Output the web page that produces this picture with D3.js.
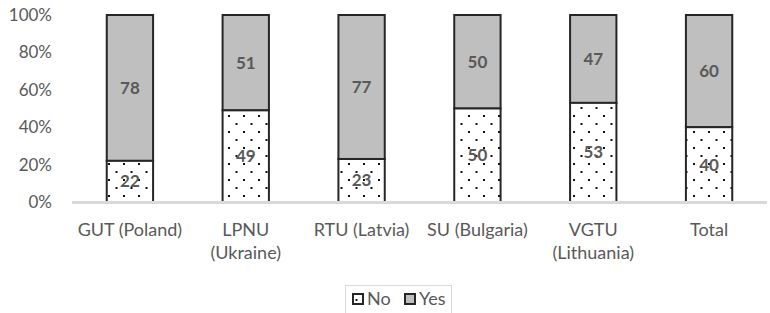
<!DOCTYPE html>
<html><head><meta charset="utf-8">
<script src="https://cdn.jsdelivr.net/npm/d3@7"></script>
<style>body{margin:0;background:#fff}svg{display:block}</style>
</head><body><svg id="c" width="770" height="313"></svg>
<script>
const categories = ["GUT (Poland)", "LPNU (Ukraine)", "RTU (Latvia)", "SU (Bulgaria)", "VGTU (Lithuania)", "Total"];
const tickLabels = [["GUT (Poland)"], ["LPNU", "(Ukraine)"], ["RTU (Latvia)"], ["SU (Bulgaria)"], ["VGTU", "(Lithuania)"], ["Total"]];
const noValues = [22, 49, 23, 50, 53, 40];
const yesValues = [78, 51, 77, 50, 47, 60];
const yTicks = [0, 20, 40, 60, 80, 100];
const seriesNames = ["No", "Yes"];

const FONT = "Lato, 'Open Sans', sans-serif";
const svg = d3.select("#c");
const defs = svg.append("defs");
const pat = defs.append("pattern").attr("id", "dots").attr("patternUnits", "userSpaceOnUse")
  .attr("width", 15).attr("height", 16);
pat.append("rect").attr("width", 15).attr("height", 16).attr("fill", "#fff");
pat.append("rect").attr("x", 3).attr("y", 3).attr("width", 2).attr("height", 2).attr("fill", "#111");
pat.append("rect").attr("x", 10.5).attr("y", 11).attr("width", 2).attr("height", 2).attr("fill", "#111");

const x = d3.scaleBand().domain(categories).range([72, 767]).paddingInner(0.6).paddingOuter(0.3);
const y = d3.scaleLinear().domain([0, 100]).range([202, 15]);

// y labels
svg.append("g").selectAll("text").data(yTicks).join("text")
  .attr("x", 52).attr("y", d => y(d)).attr("dy", "0.35em").attr("text-anchor", "end")
  .attr("font-family", FONT).attr("font-size", 17).attr("fill", "#595959")
  .text(d => d + "%");

const rows = categories.map((c, i) => ({c, no: noValues[i], yes: yesValues[i]}));
const g = svg.append("g");
g.selectAll("rect.yes").data(rows).join("rect").attr("class", "yes")
  .attr("x", d => x(d.c)).attr("width", x.bandwidth())
  .attr("y", d => y(d.no + d.yes)).attr("height", d => y(d.no) - y(d.no + d.yes))
  .attr("fill", "#BFBFBF").attr("stroke", "#262626").attr("stroke-width", 2);
g.selectAll("rect.no").data(rows).join("rect").attr("class", "no")
  .attr("x", d => x(d.c)).attr("width", x.bandwidth())
  .attr("y", d => y(d.no)).attr("height", d => y(0) - y(d.no))
  .attr("fill", "url(#dots)").attr("stroke", "#262626").attr("stroke-width", 2);

// x axis line
svg.append("line").attr("x1", 72).attr("x2", 767).attr("y1", y(0) + 0.5).attr("y2", y(0) + 0.5)
  .attr("stroke", "#D9D9D9").attr("stroke-width", 3);

// value labels
const lab = svg.append("g").attr("font-family", FONT).attr("font-size", 17).attr("font-weight", "bold")
  .attr("fill", "#595959").attr("text-anchor", "middle");
lab.selectAll("text.n").data(rows).join("text").attr("class", "n")
  .attr("x", d => x(d.c) + x.bandwidth() / 2).attr("y", d => (y(0) + y(d.no)) / 2).attr("dy", "0.35em")
  .text(d => d.no);
lab.selectAll("text.y").data(rows).join("text").attr("class", "y")
  .attr("x", d => x(d.c) + x.bandwidth() / 2).attr("y", d => (y(d.no) + y(d.no + d.yes)) / 2).attr("dy", "0.35em")
  .text(d => d.yes);

// category labels
const cl = svg.append("g").attr("font-family", FONT).attr("font-size", 18).attr("fill", "#595959").attr("text-anchor", "middle");
categories.forEach((c, i) => {
  const cx = x(c) + x.bandwidth() / 2;
  const t = cl.append("text").attr("x", cx).attr("y", 236);
  tickLabels[i].forEach((line, j) => t.append("tspan").attr("x", cx).attr("dy", j ? 23 : 0).text(line));
});

// legend
const lg = svg.append("g");
lg.append("rect").attr("x", 345.5).attr("y", 285.5).attr("width", 106).attr("height", 30)
  .attr("fill", "#fff").attr("stroke", "#D9D9D9").attr("stroke-width", 1);
const items = [{name: seriesNames[0], fill: "url(#dots)", x: 353}, {name: seriesNames[1], fill: "#BFBFBF", x: 405}];
items.forEach(it => {
  lg.append("rect").attr("x", it.x).attr("y", 294).attr("width", 10).attr("height", 10)
    .attr("fill", it.fill).attr("stroke", "#262626").attr("stroke-width", 2);
  lg.append("text").attr("x", it.x + 14).attr("y", 299).attr("dy", "0.35em")
    .attr("font-family", FONT).attr("font-size", 18).attr("fill", "#595959").text(it.name);
});
</script></body></html>
